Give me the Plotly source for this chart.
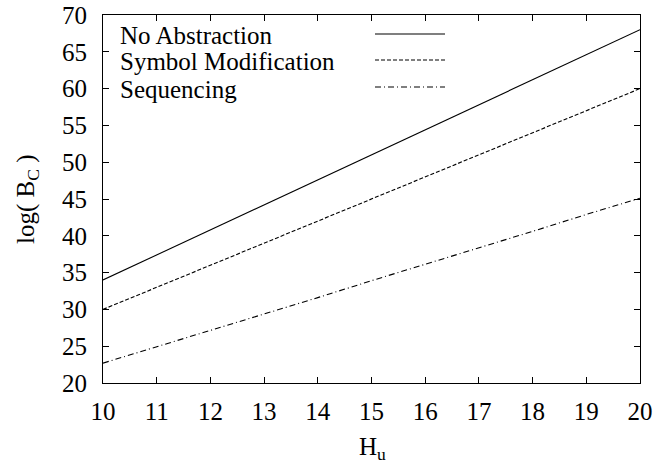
import plotly.graph_objects as go

# Data
hu = [10, 11, 12, 13, 14, 15, 16, 17, 18, 19, 20]
no_abstraction = [34.0, 37.4, 40.8, 44.2, 47.6, 51.0, 54.4, 57.8, 61.2, 64.6, 68.0]
symbol_modification = [30.0, 33.0, 36.0, 39.0, 42.0, 45.0, 48.0, 51.0, 54.0, 57.0, 60.0]
sequencing = [22.7, 24.9, 27.2, 29.4, 31.6, 33.9, 36.1, 38.4, 40.6, 42.9, 45.1]

series_names = ["No Abstraction", "Symbol Modification", "Sequencing"]
series_values = [no_abstraction, symbol_modification, sequencing]
dashes = ["solid", "4px,2px", "6px,3px,1px,3px"]

x_ticks = list(range(10, 21))
y_ticks = list(range(20, 71, 5))
x_title = "H<sub>u</sub>"
y_title = "log( B<sub>C</sub> )"

FONT = "Liberation Serif"
FS = 25

fig = go.Figure()
for name, vals, d in zip(series_names, series_values, dashes):
    fig.add_trace(go.Scatter(x=hu, y=vals, mode="lines", name=name,
                             line=dict(color="black", width=1.1, dash=d),
                             showlegend=False))

L, R, T, B = 103, 14, 15, 87
W, H = 654, 470
pw, ph = W - L - R, H - T - B
def px_x(p): return (p - L) / pw
def px_y(p): return (H - B - p) / ph

# gnuplot-style key: text on the left, line sample on the right
row_y = [36, 62, 89]
for name, d, yy in zip(series_names, dashes, row_y):
    fig.add_annotation(x=px_x(118), y=px_y(yy), xref="paper", yref="paper",
                       text=name, showarrow=False, xanchor="left", yanchor="middle",
                       font=dict(family=FONT, size=25, color="black"))
    fig.add_shape(type="line", xref="paper", yref="paper",
                  x0=px_x(375), x1=px_x(445), y0=px_y(yy - 2), y1=px_y(yy - 2),
                  line=dict(color="black", width=1.1, dash=d))

# axis titles
fig.add_annotation(x=px_x(372), y=px_y(448), xref="paper", yref="paper",
                   text=x_title, showarrow=False, xanchor="center", yanchor="middle",
                   font=dict(family=FONT, size=FS, color="black"))
fig.add_annotation(x=px_x(27), y=px_y(200), xref="paper", yref="paper",
                   text=y_title, showarrow=False, textangle=-90,
                   xanchor="center", yanchor="middle",
                   font=dict(family=FONT, size=FS, color="black"))

axis_common = dict(showline=True, linecolor="black", linewidth=1.2, mirror="ticks",
                   ticks="inside", ticklen=6, tickcolor="black", tickwidth=1,
                   showgrid=False, zeroline=False, automargin=False,
                   tickfont=dict(family=FONT, size=FS, color="black"))

fig.update_layout(
    width=W, height=H,
    margin=dict(l=L, r=R, t=T, b=B),
    plot_bgcolor="white", paper_bgcolor="white",
    font=dict(family=FONT, size=FS, color="black"),
    xaxis=dict(range=[10, 20], tickvals=x_ticks, ticklabelstandoff=6, **axis_common),
    yaxis=dict(range=[20, 70], tickvals=y_ticks, ticklabelstandoff=10, **axis_common),
)

fig.write_html("out.html")
